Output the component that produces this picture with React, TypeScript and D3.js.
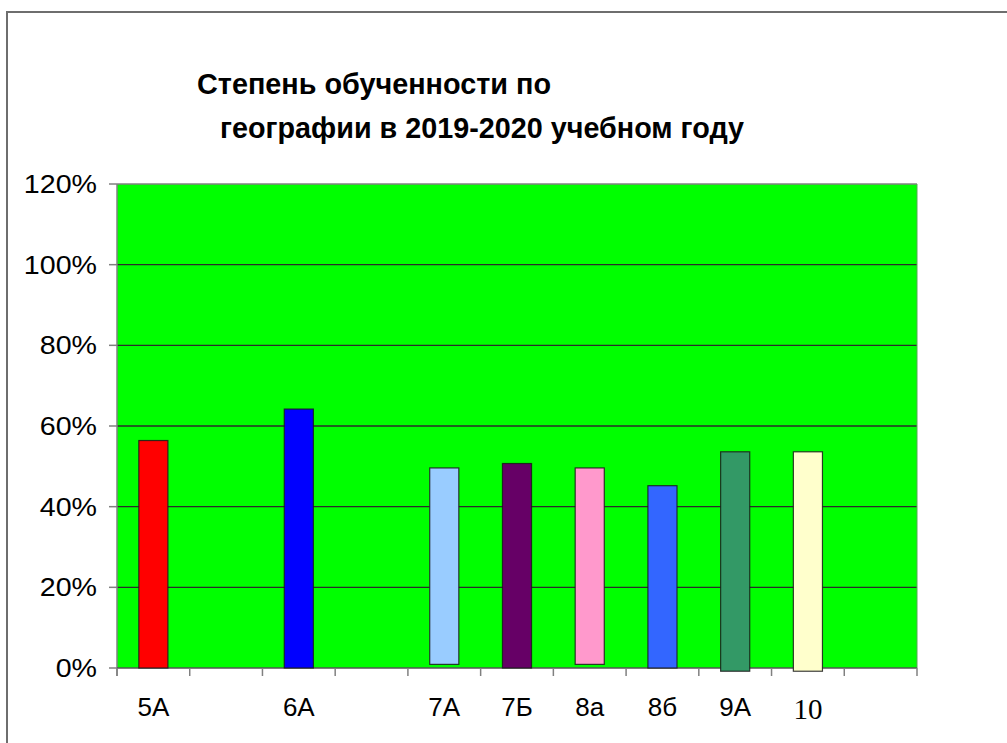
import { useEffect } from 'react'
import * as d3 from 'd3'

const TITLE_LINES = ['Степень обученности по', 'географии в 2019-2020 учебном году']
const SLOTS = ['5A', '', '6A', '', '7A', '7Б', '8a', '8б', '9A', '10', '']
const CLASSES = ['5A', '6A', '7A', '7Б', '8a', '8б', '9A', '10']
const VALUES = [0.564, 0.642, 0.496, 0.507, 0.496, 0.452, 0.536, 0.536]
const BASES = [0, 0, 0.009, 0, 0.009, 0, -0.008, -0.008]
const COLORS = ['#ff0000', '#0000ff', '#99ccff', '#660066', '#ff99cc', '#3366ff', '#339966', '#ffffcc']
const Y_TICKS = [0, 0.2, 0.4, 0.6, 0.8, 1.0, 1.2]

const W = 1007, H = 743
const L = 117, R = 917, T = 184, B = 668
const FONT = 'Liberation Sans, Arial, sans-serif'

export default function App() {
  useEffect(() => { document.body.style.margin = '0' }, [])

  const x = d3.scaleBand<number>().domain(d3.range(SLOTS.length)).range([L, R])
  const y = d3.scaleLinear().domain([0, 1.2]).range([B, T])
  const bw = x.bandwidth() * 0.4
  const fmt = d3.format('.0%')

  // title lines: [x, baseline, width]
  const titlePos = [[197, 94, 354], [220, 138, 524]]

  return (
    <svg width={W} height={H} style={{ display: 'block' }}>
      <rect x={0} y={0} width={W} height={H} fill="#fff" />
      <rect x={7} y={12} width={W + 20} height={H + 20} fill="none" stroke="#6e6e6e" strokeWidth={2} />

      {TITLE_LINES.map((t, i) => (
        <text key={t} x={titlePos[i][0]} y={titlePos[i][1]} textLength={titlePos[i][2]} lengthAdjust="spacingAndGlyphs"
          fontFamily={FONT} fontWeight="bold" fontSize={29} fill="#000">{t}</text>
      ))}

      <rect x={L} y={T} width={R - L} height={B - T} fill="#00ff00" />
      {Y_TICKS.filter(v => v > 0 && v < 1.2).map(v => (
        <line key={v} x1={L} x2={R} y1={y(v)} y2={y(v)} stroke="#2b2b2b" strokeWidth={1.3} />
      ))}
      <line x1={L} x2={R} y1={T} y2={T} stroke="#808080" strokeWidth={1.3} />
      <line x1={R} x2={R} y1={T} y2={B} stroke="#55a855" strokeWidth={1} />

      {/* y axis */}
      <line x1={L} x2={L} y1={T} y2={B + 8} stroke="#808080" strokeWidth={1.5} />
      {Y_TICKS.map(v => (
        <g key={v}>
          <line x1={L - 8} x2={L} y1={y(v)} y2={y(v)} stroke="#808080" strokeWidth={1.5} />
          <g transform={`translate(97,${y(v)}) scale(1.1,1)`}>
            <text dy="0.35em" textAnchor="end" fontFamily={FONT} fontSize={26} fill="#000">{fmt(v)}</text>
          </g>
        </g>
      ))}

      {/* x axis */}
      <line x1={L} x2={R} y1={B} y2={B} stroke="#555" strokeWidth={1.5} />
      {d3.range(SLOTS.length + 1).map(i => {
        const tx = i < SLOTS.length ? x(i)! : R
        return <line key={i} x1={tx} x2={tx} y1={B} y2={B + 8} stroke="#808080" strokeWidth={1.5} />
      })}
      {SLOTS.map((s, i) => s && (
        <text key={i} x={x(i)! + x.bandwidth() / 2} y={s === '10' ? 719 : 716} textAnchor="middle"
          fontFamily={s === '10' ? 'Liberation Serif, Times New Roman, serif' : FONT}
          fontSize={s === '10' ? 29 : 26} fill="#000">{s}</text>
      ))}

      {/* bars */}
      {CLASSES.map((c, i) => {
        const cx = x(SLOTS.indexOf(c))! + x.bandwidth() / 2
        return (
          <rect key={c} x={cx - bw / 2} y={y(VALUES[i])} width={bw} height={y(BASES[i]) - y(VALUES[i])}
            fill={COLORS[i]} stroke="#1a1a1a" strokeOpacity={0.85} strokeWidth={1.2} />
        )
      })}
    </svg>
  )
}
